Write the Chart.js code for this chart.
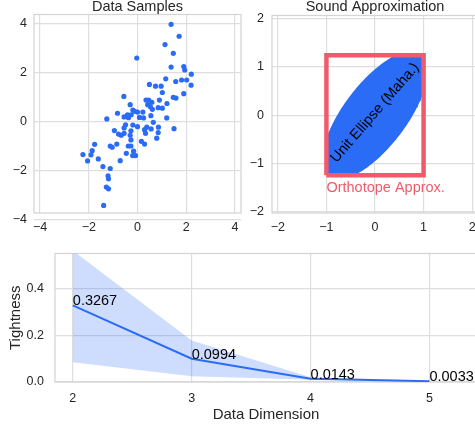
<!DOCTYPE html>
<html>
<head>
<meta charset="utf-8">
<script src="https://cdn.jsdelivr.net/npm/chart.js@4.4.1/dist/chart.umd.min.js"></script>
<style>
  html, body { margin: 0; padding: 0; background: #fff; width: 475px; height: 425px; overflow: hidden; }
  canvas { position: absolute; }
  #samples { left: 0; top: 0; }
  #approx { left: 240px; top: 0; }
  #tight { left: 0; top: 235px; }
</style>
</head>
<body>
<canvas id="samples" width="250" height="235"></canvas>
<canvas id="approx" width="250" height="235"></canvas>
<canvas id="tight" width="490" height="190"></canvas>
<script>
// data samples
const sampleX = [1.38, 1.71, 1.13, 1.47, -0.03, 1.38, 1.90, 1.94, 2.21, 1.16, 1.57, 1.81, 2.02, 2.20, 0.49, 0.74,
  0.97, 1.02, 1.90, 1.47, 1.58, -0.56, 0.35, 0.46, 0.59, 0.90, 1.21, -0.30, 0.42, 0.53, 0.85, 1.02, 0.61, -0.19,
  -0.12, 0.00, 0.22, -0.82, -0.41, -0.26, -0.55, -0.37, 0.55, 0.08, 0.25, -1.26, 1.20, 0.65, -0.49, -0.19, 0.00,
  0.38, 0.86, -0.55, 0.29, 0.56, 1.50, -0.95, -0.27, -0.78, -0.67, -0.55, 0.33, 0.85, -0.30, -0.27, 0.79, 0.16,
  0.29, -0.85, -1.12, -1.04, -0.38, -0.27, -1.76, -0.16, -1.86, -1.91, -2.24, -0.46, -0.20, -0.08, -1.61, -2.05,
  -0.71, -1.42, -1.12, -1.21, -1.19, -1.28, -1.19, -1.39];
const sampleY = [3.97, 3.48, 3.14, 2.78, 2.59, 2.22, 2.24, 2.10, 1.93, 1.74, 1.63, 1.69, 1.69, 1.48, 1.51, 1.44,
  1.44, 1.18, 1.13, 0.98, 0.95, 1.02, 0.87, 0.87, 0.78, 0.87, 0.73, 0.68, 0.68, 0.60, 0.56, 0.54, 0.49, 0.46,
  0.41, 0.38, 0.38, 0.33, 0.27, 0.27, 0.18, 0.15, 0.23, 0.16, 0.14, 0.10, 0.14, -0.04, -0.14, -0.15, -0.22,
  -0.24, -0.24, -0.27, -0.34, -0.31, -0.30, -0.38, -0.39, -0.52, -0.57, -0.49, -0.49, -0.46, -0.57, -0.76, -0.69, -0.82,
  -0.93, -0.93, -1.01, -1.06, -1.01, -1.01, -0.94, -1.22, -1.20, -1.37, -1.36, -1.31, -1.40, -1.40, -1.54, -1.62,
  -1.61, -1.85, -1.93, -2.23, -2.35, -2.69, -2.76, -3.44];

// unit ellipse (semi-axes, tilt in degrees) and the box around it
const ellipseAxes = [1.6, 0.65];
const ellipseTilt = 53;
const boxHalf = [1.0, 1.24];
const boxLabelAt = [-1.0, -1.58];

const dims = [2, 3, 4, 5];
const tightness = [0.3267, 0.0994, 0.0143, 0.0033];
const bandUpper = [0.56, 0.177, 0.020, 0.005];
const bandLower = [0.084, 0.024, 0.010, 0.002];

const sampleTicks = [-4, -2, 0, 2, 4];
const approxTicks = [-2, -1, 0, 1, 2];
const dimTicks = [2, 3, 4, 5];
const tightTicks = [0, 0.2, 0.4];

const BLUE = '#2b6cf6';
const RED = '#f05b6b';
const FONT = '"Liberation Sans", Arial, sans-serif';

Chart.defaults.font.family = FONT;
Chart.defaults.color = '#262626';

const minus = v => (v < 0 ? '\u2212' + Math.abs(v) : String(v));

function fixTicks(list) {
  return s => { s.ticks = list.map(v => ({ value: v })); };
}

function axis(min, max, list, pad, fmt, fit) {
  return {
    type: 'linear', min: min, max: max,
    afterBuildTicks: fixTicks(list),
    afterFit: fit,
    grid: { color: '#dedede', lineWidth: 1.2, drawTicks: false },
    border: { display: false },
    ticks: { padding: pad, font: { size: 12.5 }, color: '#262626', callback: fmt }
  };
}

const framePlugin = {
  id: 'frame',
  beforeDatasetsDraw(chart) {
    const { ctx, chartArea: a } = chart;
    ctx.save();
    ctx.strokeStyle = '#d4d4d4';
    ctx.lineWidth = 1.25;
    ctx.strokeRect(a.left, a.top, a.right - a.left, a.bottom - a.top);
    ctx.restore();
  }
};

const titlePlugin = {
  id: 'panelTitle',
  afterDraw(chart, args, opts) {
    if (!opts.text) return;
    const { ctx, chartArea: a } = chart;
    ctx.save();
    ctx.font = '14.5px ' + FONT;
    ctx.fillStyle = '#262626';
    ctx.textAlign = 'center';
    ctx.textBaseline = 'alphabetic';
    ctx.fillText(opts.text, (a.left + a.right) / 2, 11);
    ctx.restore();
  }
};

// --- Data Samples ---
new Chart(document.getElementById('samples'), {
  type: 'scatter',
  data: {
    datasets: [{
      data: sampleX.map((x, i) => ({ x: x, y: sampleY[i] })),
      backgroundColor: BLUE,
      borderWidth: 0,
      pointRadius: 2.6
    }]
  },
  options: {
    responsive: false, animation: false, devicePixelRatio: 1,
    layout: { padding: { top: 14, right: 9, left: 0, bottom: 0 } },
    plugins: { legend: { display: false }, tooltip: { enabled: false }, panelTitle: { text: 'Data Samples' } },
    scales: {
      x: axis(-4.25, 4.25, sampleTicks, 7, minus, s => { s.height = 22; }),
      y: axis(-3.75, 4.37, sampleTicks, 7, minus, s => { s.width = 34; })
    }
  },
  plugins: [framePlugin, titlePlugin]
});

// --- Sound Approximation ---
// ellipse outline, cut where it leaves the box
const tilt = ellipseTilt * Math.PI / 180;
const clamp = (v, h) => Math.max(-h, Math.min(h, v));
const ellipse = [];
for (let k = 0; k <= 240; k++) {
  const t = k / 240 * 2 * Math.PI;
  const u = ellipseAxes[0] * Math.cos(t), w = ellipseAxes[1] * Math.sin(t);
  ellipse.push({
    x: clamp(u * Math.cos(tilt) - w * Math.sin(tilt), boxHalf[0]),
    y: clamp(u * Math.sin(tilt) + w * Math.cos(tilt), boxHalf[1])
  });
}
const box = [
  { x: -boxHalf[0], y: -boxHalf[1] }, { x: boxHalf[0], y: -boxHalf[1] },
  { x: boxHalf[0], y: boxHalf[1] }, { x: -boxHalf[0], y: boxHalf[1] }, { x: -boxHalf[0], y: -boxHalf[1] }
];

const approxLabels = {
  id: 'approxLabels',
  afterDatasetsDraw(chart) {
    const { ctx, scales: { x, y } } = chart;
    ctx.save();
    ctx.font = '14.5px ' + FONT;
    ctx.fillStyle = '#000';
    ctx.translate(x.getPixelForValue(0), y.getPixelForValue(0.05));
    ctx.rotate(-49 * Math.PI / 180);
    ctx.textAlign = 'center';
    ctx.textBaseline = 'middle';
    ctx.fillText('Unit Ellipse (Maha.)', 0, 0);
    ctx.restore();

    ctx.save();
    ctx.font = '14.5px ' + FONT;
    ctx.fillStyle = RED;
    ctx.textAlign = 'left';
    ctx.textBaseline = 'alphabetic';
    ctx.fillText('Orthotope Approx.', x.getPixelForValue(boxLabelAt[0]), y.getPixelForValue(boxLabelAt[1]));
    ctx.restore();
  }
};

new Chart(document.getElementById('approx'), {
  type: 'line',
  data: {
    datasets: [{
      data: box,
      borderColor: RED,
      borderWidth: 4.5,
      borderJoinStyle: 'miter',
      pointRadius: 0,
      fill: false,
      tension: 0,
      order: 0
    }, {
      data: ellipse,
      borderWidth: 0,
      borderColor: BLUE,
      backgroundColor: BLUE,
      pointRadius: 0,
      fill: 'shape',
      tension: 0,
      order: 1
    }]
  },
  options: {
    responsive: false, animation: false, devicePixelRatio: 1,
    layout: { padding: { top: 14, right: 12, left: 0, bottom: 0 } },
    plugins: { legend: { display: false }, tooltip: { enabled: false }, panelTitle: { text: 'Sound Approximation' } },
    scales: {
      x: axis(-2.12, 2.12, approxTicks, 7, minus, s => { s.height = 22; }),
      y: axis(-2.02, 2.06, approxTicks, 8, minus, s => { s.width = 32; })
    }
  },
  plugins: [framePlugin, titlePlugin, approxLabels]
});

// --- Tightness vs dimension ---
const valueLabels = {
  id: 'valueLabels',
  afterDatasetsDraw(chart) {
    const { ctx } = chart;
    const meta = chart.getDatasetMeta(0);
    ctx.save();
    ctx.font = '14.5px ' + FONT;
    ctx.fillStyle = '#000';
    ctx.textAlign = 'left';
    ctx.textBaseline = 'alphabetic';
    meta.data.forEach((p, i) => ctx.fillText(tightness[i].toFixed(4), p.x, p.y));
    ctx.restore();
  }
};

const xTight = axis(1.85, 5.4, dimTicks, 9, v => String(v), s => { s.height = 43; });
xTight.title = { display: true, text: 'Data Dimension', font: { size: 15 }, color: '#262626', padding: { top: 0, bottom: 1 } };
const yTight = axis(0, 0.548, tightTicks, 11, v => v.toFixed(1), s => { s.width = 55; });
yTight.title = { display: true, text: 'Tightness', font: { size: 15 }, color: '#262626', padding: { top: 7, bottom: 0 } };

new Chart(document.getElementById('tight'), {
  type: 'line',
  data: {
    datasets: [{
      data: dims.map((d, i) => ({ x: d, y: tightness[i] })),
      borderColor: BLUE,
      borderWidth: 2,
      pointRadius: 0,
      fill: false,
      tension: 0,
      order: 0
    }, {
      data: dims.map((d, i) => ({ x: d, y: bandUpper[i] })),
      borderWidth: 0,
      pointRadius: 0,
      backgroundColor: 'rgba(43,108,246,0.23)',
      fill: '+1',
      tension: 0,
      order: 1
    }, {
      data: dims.map((d, i) => ({ x: d, y: bandLower[i] })),
      borderWidth: 0,
      pointRadius: 0,
      fill: false,
      tension: 0,
      order: 2
    }]
  },
  options: {
    responsive: false, animation: false, devicePixelRatio: 1,
    layout: { padding: { top: 10, right: 13, left: 0, bottom: 0 } },
    plugins: { legend: { display: false }, tooltip: { enabled: false } },
    scales: { x: xTight, y: yTight }
  },
  plugins: [framePlugin, valueLabels]
});
</script>
</body>
</html>
